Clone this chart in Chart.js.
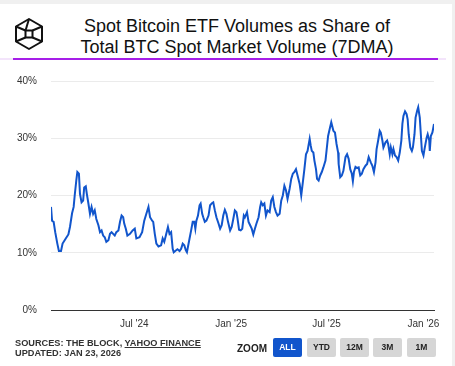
<!DOCTYPE html>
<html>
<head>
<meta charset="utf-8">
<script src="https://cdn.jsdelivr.net/npm/chart.js@4"></script>
<style>
  body { margin: 0; background: #f0f0f0; font-family: 'Liberation Sans', Arial, sans-serif; }
  #card { position: absolute; left: 0; top: 4px; width: 452px; height: 362px; background: #fff; overflow: hidden; }
  #logo { position: absolute; left: 13px; top: 12px; }
  #title { position: absolute; left: 60px; width: 354px; top: 12px; text-align: center; font-size: 18px; line-height: 21px; color: #111; }
  #rule { position: absolute; left: 13px; top: 54px; width: 425px; height: 2px; background: #a61ee8; }
  #rule-fade { position: absolute; left: 0; top: 54px; width: 446px; height: 2px; background: #f3e4fb; }
  #chart { position: absolute; left: 0; top: 57px; }
  #sources { position: absolute; left: 15px; top: 334px; font-size: 9.2px; font-weight: bold; color: #333; line-height: 10px; }
  #sources u { text-decoration-thickness: 1px; }
  #zoom { position: absolute; left: 237px; top: 339px; font-size: 10px; font-weight: bold; color: #222; }
  .btn { position: absolute; top: 334px; height: 19px; width: 29px; border-radius: 2px; background: #d6d6d6; color: #222;
         font-size: 8.5px; font-weight: bold; text-align: center; line-height: 19px; }
  .btn.on { background: #1155cc; color: #fff; }
</style>
</head>
<body>
<div id="card">
  <svg id="logo" width="32" height="36" viewBox="0 0 32 36">
    <g fill="none" stroke="#111" stroke-width="2" stroke-linejoin="round">
      <polygon points="16,3 29,10.5 29,25.5 16,33 3,25.5 3,10.5"/>
      <rect x="12.5" y="14.5" width="7" height="7"/>
      <polyline points="3,10.5 12.5,14.5"/>
      <polyline points="29,10.5 19.5,14.5"/>
      <polyline points="3,25.5 12.5,21.5"/>
      <polyline points="29,25.5 19.5,21.5"/>
      <polyline points="16,3 12.5,14.5"/>
    </g>
  </svg>
  <div id="title">Spot Bitcoin ETF Volumes as Share of<br>Total BTC Spot Market Volume (7DMA)</div>
  <div id="rule-fade"></div>
  <div id="rule"></div>
  <canvas id="chart" width="452" height="279"></canvas>
  <div id="sources">SOURCES: THE BLOCK, <u>YAHOO FINANCE</u><br>UPDATED: JAN 23, 2026</div>
  <div id="zoom">ZOOM</div>
  <div class="btn on" style="left:273px">ALL</div>
  <div class="btn" style="left:307px">YTD</div>
  <div class="btn" style="left:340px">12M</div>
  <div class="btn" style="left:373px">3M</div>
  <div class="btn" style="left:407px">1M</div>
</div>
<script>
// days since 2024-01-01
const days = [
  24, 26, 29, 32, 36, 39, 43, 46, 52, 57, 60, 64, 67, 69, 72, 74, 77, 79, 82, 85,
  87, 90, 92, 95, 98, 101, 104, 107, 110, 114, 117, 120, 123, 126, 129, 133, 136, 139, 142, 145,
  148, 152, 155, 158, 161, 163, 166, 169, 174, 179, 183, 186, 192, 197, 201, 205, 209, 212, 216, 218,
  221, 224, 228, 233, 236, 239, 242, 246, 249, 252, 255, 257, 261, 264, 268, 271, 274, 277, 280, 282,
  287, 290, 293, 296, 298, 300, 303, 306, 308, 311, 313, 316, 319, 323, 326, 330, 332, 335, 338, 342,
  345, 348, 351, 354, 357, 360, 364, 367, 370, 373, 376, 378, 381, 384, 387, 390, 392, 396, 399, 402,
  405, 408, 411, 414, 418, 421, 423, 426, 429, 432, 435, 439, 442, 445, 448, 451, 454, 458, 461, 464,
  467, 470, 473, 477, 480, 483, 486, 489, 492, 496, 499, 502, 505, 508, 511, 515, 517, 519, 522, 524,
  527, 529, 532, 535, 538, 541, 545, 547, 550, 553, 556, 560, 563, 566, 569, 570, 573, 576, 579, 583,
  586, 589, 592, 595, 597, 599, 602, 605, 608, 611, 614, 617, 621, 624, 627, 631, 634, 637, 640, 642,
  645, 648, 650, 653, 655, 659, 662, 664, 667, 669, 672, 674, 677, 680, 683, 686, 689, 691, 693, 696,
  699, 701, 703, 706, 709, 711, 714, 716, 719, 721, 724, 726, 728, 731, 733, 737, 739, 742, 743, 745,
  748, 751
];
// ETF share of spot volume, %
const share = [
  18.0, 15.6, 15.4, 13.6, 11.6, 10.3, 10.3, 11.6, 12.5, 13.2, 14.5, 16.9, 18.0, 20.0, 22.6, 24.1, 23.8, 20.3, 18.8, 19.1,
  21.4, 21.6, 20.3, 18.6, 16.8, 18.0, 16.8, 17.4, 15.9, 14.8, 13.6, 13.9, 13.0, 12.7, 11.9, 12.2, 13.3, 13.6, 13.3, 13.0,
  13.6, 13.9, 15.4, 16.5, 16.2, 15.1, 14.2, 13.0, 13.3, 13.9, 14.2, 12.5, 12.7, 13.6, 15.6, 16.8, 18.0, 16.2, 15.6, 15.4,
  13.3, 11.6, 11.1, 11.3, 12.5, 11.9, 13.0, 14.5, 13.3, 13.6, 10.7, 10.1, 10.4, 10.6, 10.3, 10.7, 11.6, 11.3, 10.4, 10.1,
  12.5, 13.9, 15.4, 15.4, 14.2, 15.6, 16.5, 18.3, 18.6, 16.8, 16.2, 15.4, 15.6, 16.5, 18.3, 18.7, 18.8, 17.4, 16.2, 15.1,
  14.2, 14.8, 16.5, 17.5, 16.8, 15.4, 13.9, 14.5, 15.9, 17.4, 17.1, 16.0, 14.0, 13.9, 14.2, 16.5, 16.2, 17.1, 15.4, 14.8,
  14.2, 13.2, 14.2, 15.1, 16.2, 18.0, 18.8, 18.3, 18.6, 16.5, 17.4, 17.1, 19.1, 19.7, 18.0, 17.1, 16.5, 16.8, 19.1, 20.0,
  21.7, 20.9, 19.4, 21.2, 22.9, 23.8, 24.1, 24.6, 23.5, 22.0, 20.0, 22.3, 24.6, 27.2, 27.8, 29.9, 28.7, 27.8, 27.5, 26.1,
  24.6, 22.9, 22.6, 23.5, 24.1, 24.9, 26.1, 27.8, 30.4, 31.6, 32.8, 31.3, 31.0, 29.0, 27.5, 25.5, 23.2, 23.5, 24.3, 26.7,
  27.2, 26.4, 24.6, 23.8, 22.5, 24.1, 25.0, 24.8, 24.9, 23.5, 23.8, 24.6, 25.2, 25.5, 26.7, 25.8, 25.2, 24.1, 25.8, 28.1,
  29.6, 31.3, 31.0, 29.6, 28.4, 29.3, 29.6, 29.0, 27.2, 28.4, 27.2, 28.1, 27.0, 26.7, 26.1, 27.5, 29.6, 32.5, 33.9, 34.7,
  34.2, 33.3, 30.7, 28.4, 27.8, 28.4, 30.7, 33.6, 34.8, 35.4, 33.6, 30.7, 27.8, 27.0, 28.1, 30.1, 30.7, 29.6, 27.8, 30.4,
  31.0, 32.5
];
const tickDays = [182, 366, 547, 731];
const tickLabels = ["Jul '24", "Jan '25", "Jul '25", "Jan '26"];
const yTicks = [0, 10, 20, 30, 40];

const tickFont = { family: "'Liberation Sans', Arial, sans-serif", size: 10 };

new Chart(document.getElementById('chart'), {
    type: 'line',
    data: {
        datasets: [{
            data: days.map((d, i) => ({ x: d, y: share[i] })),
            borderColor: '#1155cc',
            borderWidth: 2,
            pointRadius: 0,
            tension: 0,
        }]
    },
    options: {
        responsive: false,
        animation: false,
        layout: { padding: { top: 0, right: 18, left: 0, bottom: 0 } },
        plugins: { legend: { display: false }, tooltip: { enabled: false } },
        scales: {
            x: {
                type: 'linear',
                min: days[0],
                max: days[days.length - 1],
                afterBuildTicks: s => { s.ticks = tickDays.map(v => ({ value: v })); },
                afterFit: s => { s.height = 30; },
                ticks: {
                    autoSkip: false, maxRotation: 0, padding: 8, color: '#333', font: tickFont,
                    callback: v => tickLabels[tickDays.indexOf(v)]
                },
                grid: { display: false, drawTicks: false },
                border: { color: '#333', width: 1 }
            },
            y: {
                min: 0, max: 40,
                afterBuildTicks: s => { s.ticks = yTicks.map(v => ({ value: v })); },
                afterFit: s => { s.width = 51; },
                ticks: { padding: 14, color: '#333', font: tickFont, callback: v => v + '%' },
                grid: { drawTicks: false, color: c => c.tick && c.tick.value === 0 ? '#333' : '#ebebeb' },
                border: { display: false }
            }
        }
    }
});
</script>
</body>
</html>
